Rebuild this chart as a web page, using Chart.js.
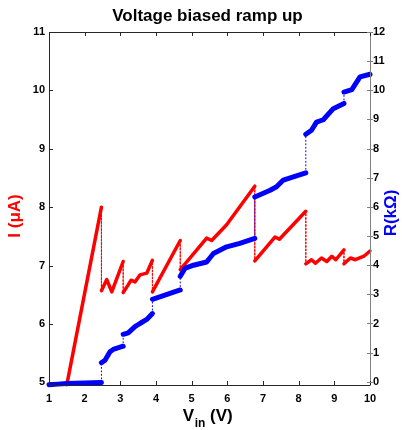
<!DOCTYPE html>
<html>
<head>
<meta charset="utf-8">
<script src="https://cdn.jsdelivr.net/npm/chart.js@4.4.0/dist/chart.umd.min.js"></script>
<style>
  html, body { margin: 0; padding: 0; background: #fff; }
  #wrap { width: 402px; height: 430px; }
</style>
</head>
<body>
<div id="wrap"><canvas id="c" width="402" height="430"></canvas></div>
<script>
// ---- data ----
const titleText = "Voltage biased ramp up";
const leftLabel = "I (\u03bcA)";
const rightLabel = "R(k\u03a9)";

// Current I (uA) vs Vin (V)
const redVin = [1.50, 2.47, 2.47, 2.62, 2.76, 3.08, 3.08, 3.22, 3.30, 3.41, 3.55, 3.74, 3.90,
                3.90, 4.68, 4.68, 5.42, 5.56, 5.98, 6.77, 6.77, 7.34, 7.46, 8.20,
                8.20, 8.36, 8.47, 8.64, 8.79, 8.93, 9.04, 9.27, 9.27, 9.45, 9.59, 9.83, 10.0];
const redI   = [4.96, 8.00, 6.57, 6.76, 6.55, 7.07, 6.54, 6.67, 6.75, 6.72, 6.84, 6.87, 7.09,
                6.55, 7.43, 6.93, 7.47, 7.43, 7.70, 8.36, 7.08, 7.49, 7.45, 7.93,
                7.03, 7.10, 7.04, 7.13, 7.07, 7.16, 7.10, 7.27, 7.03, 7.13, 7.10, 7.16, 7.25];

// Resistance R (kOhm) vs Vin (V)
const blueVin = [1.00, 1.25, 1.50, 2.00, 2.47, 2.47, 2.57, 2.71, 2.80, 3.08, 3.08, 3.22, 3.41, 3.55, 3.74, 3.90,
                 3.90, 4.68, 4.68, 4.81, 5.05, 5.42, 5.61, 5.98, 6.35, 6.77,
                 6.77, 7.20, 7.38, 7.57, 7.85, 8.20, 8.20, 8.36, 8.50, 8.69, 8.97, 9.27,
                 9.27, 9.49, 9.72, 10.0];
const blueR   = [-0.10, -0.08, -0.06, -0.04, -0.02, 0.65, 0.74, 1.03, 1.11, 1.22, 1.63, 1.68, 1.89, 2.00, 2.14, 2.34,
                 2.83, 3.15, 3.62, 3.89, 4.00, 4.11, 4.40, 4.63, 4.75, 4.92,
                 6.34, 6.57, 6.69, 6.92, 7.03, 7.17, 8.49, 8.63, 8.91, 8.99, 9.37, 9.55,
                 9.94, 10.02, 10.46, 10.55];

const xTicks = [1, 2, 3, 4, 5, 6, 7, 8, 9, 10];
const leftTicks = [5, 6, 7, 8, 9, 10, 11];
const rightTicks = [0, 1, 2, 3, 4, 5, 6, 7, 8, 9, 10, 11, 12];

// ---- chart ----
const FONT = 'Arial, "Liberation Sans", Helvetica, sans-serif';
const toXY = (xs, ys) => xs.map((x, i) => ({ x: x, y: ys[i] }));
const isJump = ctx => ctx.p0.parsed.x === ctx.p1.parsed.x;

const decor = {
  id: 'decor',
  afterDatasetsDraw(chart) {
    const { ctx, chartArea: a, scales } = chart;
    ctx.save();
    // box
    ctx.lineWidth = 1;
    ctx.strokeStyle = '#262626';
    ctx.beginPath();
    ctx.moveTo(a.right + 0.5, a.top + 0.5);
    ctx.lineTo(a.left + 0.5, a.top + 0.5);
    ctx.lineTo(a.left + 0.5, a.bottom + 0.5);
    ctx.lineTo(a.right + 0.5, a.bottom + 0.5);
    ctx.stroke();
    ctx.strokeStyle = '#808080';
    ctx.beginPath();
    ctx.moveTo(a.right + 0.5, a.top + 0.5);
    ctx.lineTo(a.right + 0.5, a.bottom + 0.5);
    ctx.stroke();
    // x ticks (inward, top and bottom)
    ctx.strokeStyle = '#262626';
    ctx.beginPath();
    xTicks.forEach(v => {
      const px = Math.round(scales.x.getPixelForValue(v)) + 0.5;
      ctx.moveTo(px, a.bottom); ctx.lineTo(px, a.bottom - 4);
      ctx.moveTo(px, a.top); ctx.lineTo(px, a.top + 4);
    });
    // left ticks
    leftTicks.forEach(v => {
      const py = Math.round(scales.y.getPixelForValue(v)) + 0.5;
      ctx.moveTo(a.left, py); ctx.lineTo(a.left + 4, py);
    });
    ctx.stroke();
    // right ticks
    ctx.strokeStyle = '#808080';
    ctx.beginPath();
    rightTicks.forEach(v => {
      const py = Math.round(scales.y1.getPixelForValue(v)) + 0.5;
      ctx.moveTo(a.right - 3, py); ctx.lineTo(a.right + 3, py);
    });
    ctx.stroke();

    // title
    ctx.fillStyle = '#000';
    ctx.font = 'bold 17px ' + FONT;
    ctx.textAlign = 'center';
    ctx.textBaseline = 'alphabetic';
    ctx.fillText(titleText, 207.5, 20.5);

    // x title with subscript
    ctx.textAlign = 'left';
    const big = 'bold 17px ' + FONT, small = 'bold 12px ' + FONT;
    ctx.font = big; const wV = ctx.measureText('V').width;
    ctx.font = small; const wIn = ctx.measureText('in').width;
    ctx.font = big; const wRest = ctx.measureText(' (V)').width;
    let x0 = 207.5 - (wV + wIn + wRest) / 2;
    ctx.font = big; ctx.fillText('V', x0, 421);
    ctx.font = small; ctx.fillText('in', x0 + wV + 0.5, 427);
    ctx.font = big; ctx.fillText(' (V)', x0 + wV + wIn + 0.5, 421);

    // y titles
    ctx.textAlign = 'center';
    ctx.textBaseline = 'middle';
    ctx.font = 'bold 17px ' + FONT;
    ctx.fillStyle = '#ff0000';
    ctx.translate(15, 216);
    ctx.rotate(-Math.PI / 2);
    ctx.fillText(leftLabel, 0, 0);
    ctx.setTransform(1, 0, 0, 1, 0, 0);
    ctx.fillStyle = '#0000ff';
    ctx.translate(391.5, 213);
    ctx.rotate(-Math.PI / 2);
    ctx.fillText(rightLabel, 0, 0);
    ctx.restore();
  }
};

new Chart(document.getElementById('c'), {
  type: 'scatter',
  data: {
    datasets: [
      {
        label: 'R',
        data: toXY(blueVin, blueR),
        yAxisID: 'y1',
        showLine: true,
        order: 0,
        borderColor: '#0000ff',
        backgroundColor: '#0000ff',
        borderWidth: 5,
        borderCapStyle: 'round',
        borderJoinStyle: 'round',
        pointRadius: 0,
        clip: 6,
        segment: {
          borderDash: ctx => isJump(ctx) ? [1, 2.5] : undefined,
          borderWidth: ctx => isJump(ctx) ? 1 : undefined
        }
      },
      {
        label: 'I',
        data: toXY(redVin, redI),
        yAxisID: 'y',
        showLine: true,
        order: 1,
        borderColor: '#ff0000',
        backgroundColor: '#ff0000',
        borderWidth: 3.5,
        borderCapStyle: 'round',
        borderJoinStyle: 'round',
        pointRadius: 0,
        clip: 6,
        segment: {
          borderDash: ctx => isJump(ctx) ? [1, 2.5] : undefined,
          borderWidth: ctx => isJump(ctx) ? 1 : undefined
        }
      }
    ]
  },
  options: {
    responsive: false,
    animation: false,
    events: [],
    layout: { padding: { top: 32, left: 0, right: 0, bottom: 0 } },
    plugins: { legend: { display: false }, title: { display: false }, tooltip: { enabled: false } },
    scales: {
      x: {
        type: 'linear', min: 1, max: 10,
        afterBuildTicks: s => { s.ticks = xTicks.map(v => ({ value: v })); },
        afterFit: s => { s.height = 45; },
        grid: { display: false, drawTicks: false },
        border: { display: false },
        ticks: { color: '#000', font: { family: FONT, size: 11, weight: 'bold' }, padding: 7, autoSkip: false, maxRotation: 0 }
      },
      y: {
        type: 'linear', position: 'left', min: 4.955, max: 11,
        afterBuildTicks: s => { s.ticks = leftTicks.map(v => ({ value: v })); },
        afterFit: s => { s.width = 49; },
        grid: { display: false, drawTicks: false },
        border: { display: false },
        ticks: { color: '#000', font: { family: FONT, size: 11, weight: 'bold' }, padding: 4 }
      },
      y1: {
        type: 'linear', position: 'right', min: -0.11, max: 12,
        afterBuildTicks: s => { s.ticks = rightTicks.map(v => ({ value: v })); },
        afterFit: s => { s.width = 32; },
        grid: { display: false, drawTicks: false },
        border: { display: false },
        ticks: { color: '#000', font: { family: FONT, size: 11, weight: 'bold' }, padding: 3 }
      }
    }
  },
  plugins: [decor]
});
</script>
</body>
</html>
